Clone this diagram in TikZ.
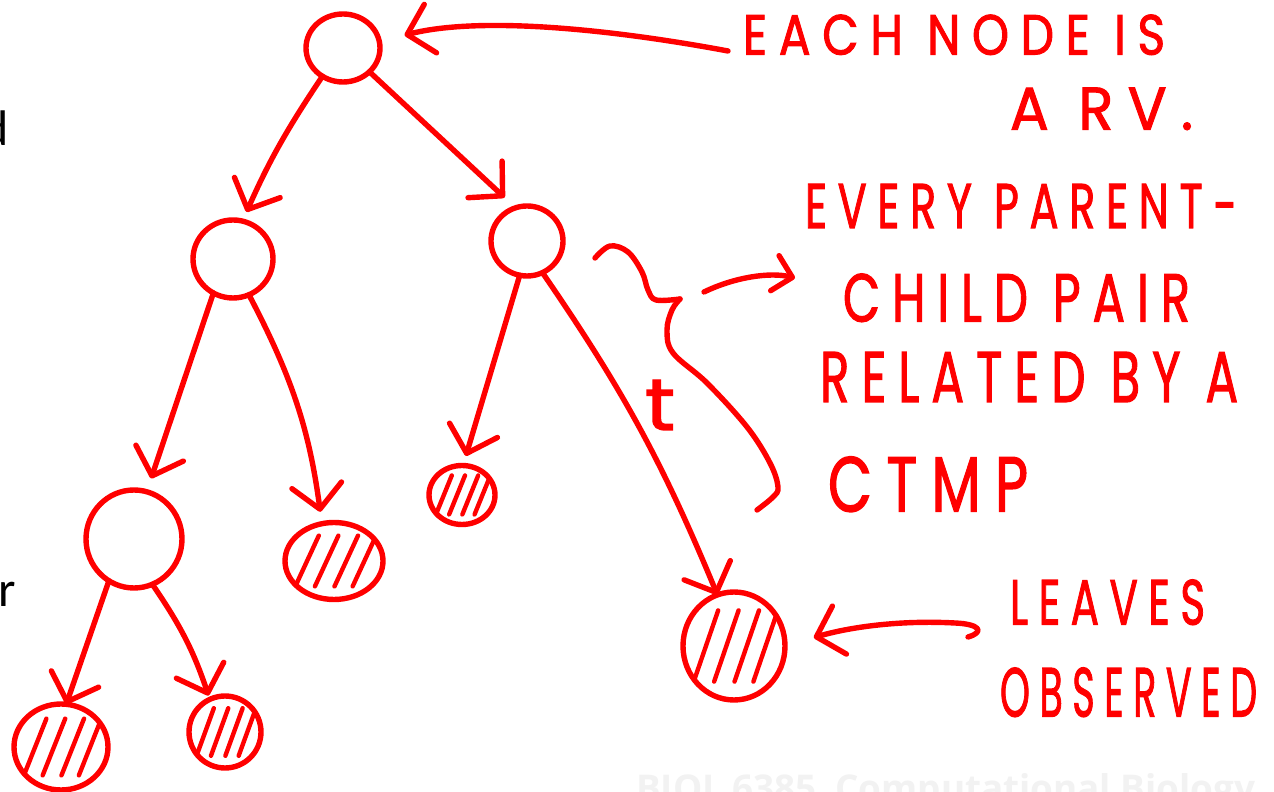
\documentclass[tikz,border=0pt]{standalone}
\usepackage{fontspec}
\usepackage{graphicx}
\usetikzlibrary{arrows.meta,shapes.geometric,calc}
\newfontfamily\handfont[LetterSpace=25,FakeBold=1.8]{Poppins}
\newfontfamily\slidefont{Carlito}
\newfontfamily\markfont{Open Sans}
\definecolor{ink}{RGB}{255,0,0}
\definecolor{mark}{RGB}{242,242,242}
% a line of hand lettering squeezed to a given width and height
\newcommand\handtext[3]{\resizebox{#1pt}{#2pt}{\handfont #3}}

\begin{document}
\begin{tikzpicture}[x=1pt,y=1pt,
  pen/.style={draw=ink,line width=5.4pt,line cap=round,line join=round},
  barb/.style={-{Straight Barb[length=24pt,width=50pt,round]}},
  link/.style={pen,barb},
  hatch/.style={draw=ink,line width=4.4pt,line cap=round},
  rv/.style 2 args={ellipse,pen,minimum width=#1pt,minimum height=#2pt,inner sep=0pt,outer sep=0pt},
  leaf/.style 2 args={rv={#1}{#2},path picture={
     \foreach \d in {-0.55,-0.15,0.25,0.62}
       \draw[hatch] ($(path picture bounding box.center)+({(\d-0.24)*#1/2},{-0.66*#2/2})$)
                 -- ($(path picture bounding box.center)+({(\d+0.24)*#1/2},{0.66*#2/2})$);}},
  note/.style={inner sep=0pt,outer sep=0pt,anchor=south west,text=ink},
  frag/.style={inner sep=0pt,anchor=base east,font=\slidefont\fontsize{50}{50}\selectfont},
]
\useasboundingbox (0,0) rectangle (1274,792);
\fill[white] (0,0) rectangle (1274,792);

% slide footer and cut-off slide text underneath the ink
\node[anchor=base west,inner sep=0pt,text=mark] (course) at (636,-10)
  {\resizebox{619pt}{!}{\markfont\bfseries BIOL 6385\enspace Computational Biology}};
\node[frag] (fragd) at (9,646) {d};
\node[frag] (fragr) at (16,185) {r};

% random variables of the tree
\node[rv={74}{68}]    (root) at (343,744) {};
\node[rv={80}{78}]    (l1)   at (233,533) {};
\node[rv={72}{70}]    (r1)   at (527,551) {};
\node[rv={96}{98}]    (ll)   at (134,253) {};
\node[leaf={98}{77}]  (lr)   at (334,231) {};
\node[leaf={94}{86}]  (lll)  at (61,45)   {};
\node[leaf={72}{72}]  (llr)  at (225,60)  {};
\node[leaf={66}{59}]  (rl)   at (462,297) {};
\node[leaf={102}{108}](rr)   at (734,146) {};

% parent -> child edges
\draw[link,shorten >=10pt] (root.234) to[bend right=5] (l1.76);
\draw[link,shorten >=15pt] (root.318) to (r1.109);
\draw[link,shorten >=14pt] (l1.240) to (ll.75);
\draw[link,shorten >=12pt] (l1.294) to[bend left=10] (lr.108);
\draw[link,shorten >=10pt] (r1.258) to (rl.88);
\draw[link] (r1.296) to[bend left=6] (rr.108);
\draw[link] (ll.239) to (lll.83);
\draw[link,shorten >=4pt] (ll.292) to[bend left=8] (llr.115);

% branch length
\node[note] (tlabel) at (645,362) {\handtext{30}{50}{t}};

% annotations
\node[note] (each)     at (743,737) {\handtext{422}{40}{EACH NODE IS}};
\node[note] (rvnote)   at (1010,662) {\handtext{183}{42}{A RV.}};
\node[note] (every)    at (805,564) {\handtext{432}{44}{EVERY PARENT-}};
\node[note] (child)    at (843,470) {\handtext{347}{48}{CHILD PAIR}};
\node[note] (related)  at (820,390) {\handtext{418}{50}{RELATED BY A}};
\node[note] (ctmp)     at (828,280) {\handtext{200}{55}{CTMP}};
\node[note] (leaves)   at (1010,167) {\handtext{195}{45}{LEAVES}};
\node[note] (observed) at (1000,75) {\handtext{257}{49}{OBSERVED}};

% pointer from the first note to the root
\draw[pen,barb,shorten >=26pt] ([shift={(-15pt,4pt)}]each.south west)
  .. controls (610,763) and (480,776) .. (root.10);

% brace over the parent-child edge and its pointer
\draw[pen] plot[smooth,tension=0.6] coordinates
  {(595,534) (610,546) (628,540) (642,520) (648,502) (656,492) (680,493)};
\draw[pen] plot[smooth,tension=0.6] coordinates
  {(680,493) (672,482) (667,462) (673,439) (707,409) (747,365) (770,329) (778,305) (773,295) (757,282)};
\coordinate (ptrfrom) at (704,500);
\coordinate (ptrto) at (795,514);
\draw[pen,-{Straight Barb[length=18pt,width=36pt,round]}] (ptrfrom)
  .. controls (735,515) and (770,520) .. (ptrto);

% pointer from the leaves note to an observed leaf
\draw[pen,barb,shorten >=30pt] ([shift={(-42pt,-12pt)}]leaves.south west)
  .. controls (985,160) and (980,168) .. (955,169)
  .. controls (900,172) and (850,165) .. (rr.east);
\end{tikzpicture}
\end{document}
